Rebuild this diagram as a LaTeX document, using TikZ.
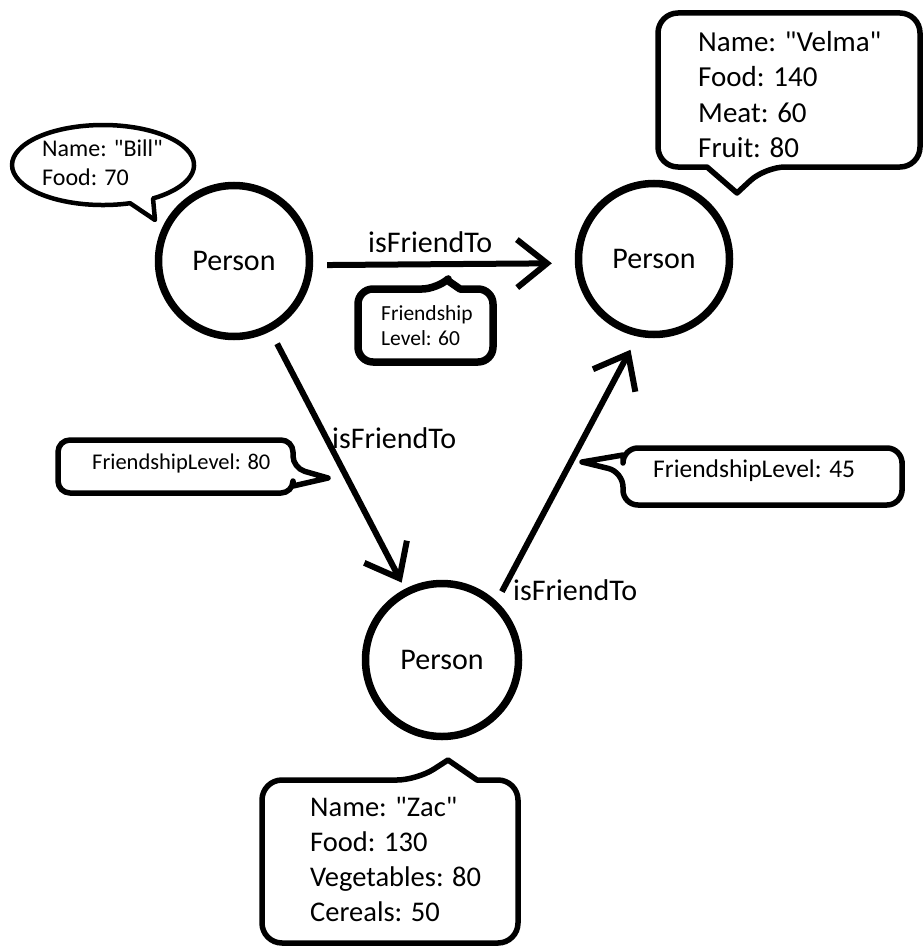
\documentclass[tikz,border=0pt]{standalone}
\usepackage{fontspec}
\setmainfont{Carlito}
\usetikzlibrary{arrows.meta}
\tikzset{
  person/.style={circle, draw, line width=7.5pt, minimum size=151pt, inner sep=0pt,
    font=\fontsize{30}{35}\selectfont},
  conn/.style={line width=6pt, -{Straight Barb[length=30pt,width=48pt]}},
  rel/.style={font=\fontsize{30}{35}\selectfont, inner sep=0pt, anchor=base west},
  callout/.style={draw, line width=5.5pt, fill=white, line join=round},
  ctext/.style={inner sep=0pt, anchor=north west, align=left},
}
\newcommand{\qq}{\textquotedbl}
\begin{document}
\begin{tikzpicture}[x=1pt, y=-1pt]
\useasboundingbox (0,0) rectangle (923,947);

% persons
\node[person] (bill) at (234,261) {Person};
\node[person] (velma) at (654,259) {Person};
\node[person, minimum size=153pt] (zac) at (442,660) {Person};

% connectors
\draw[conn, shorten <=14pt, shorten >=23pt] (bill.-3) -- (velma.183);
\draw[conn, shorten <=14pt, shorten >=7pt] (bill) -- (zac);
\draw[conn, shorten <=11pt, shorten >=15pt] (zac.47) -- (velma.-102);

% relation labels
\node[rel] (r1) at (368,252) {isFriendTo};
\node[rel] (r2) at (332,448) {isFriendTo};
\node[rel] (r3) at (513,600) {isFriendTo};

% Bill callout (ellipse)
\draw[callout, line width=4.5pt] (155,220) -- (130.1,203.2)
  arc[start angle=-72.7, end angle=-416.7, x radius=91pt, y radius=40pt] -- cycle;
\node[ctext, font=\fontsize{24}{29}\selectfont] (billtxt) at (42,140) {Name: \qq Bill\qq\\Food: 70};

% Velma callout
\draw[callout, rounded corners=20pt] (658,90) -- (658,13) -- (920,13) -- (920,167) -- (765,167)
  [sharp corners] -- (737,193) -- (707,167) [rounded corners=20pt] -- (658,167) -- cycle;
\node[ctext, font=\fontsize{29}{35.5}\selectfont] (velmatxt) at (698,31) {Name: \qq Velma\qq\\Food: 140\\Meat: 60\\Fruit: 80};

% Zac callout
\draw[callout, rounded corners=20pt] (262,860) -- (262,780) -- (417,780)
  [sharp corners] -- (448,760) -- (477,780) [rounded corners=20pt] -- (518,780) -- (518,943) -- (262,943) -- cycle;
\node[ctext, font=\fontsize{28.5}{35}\selectfont] (zactxt) at (310,797) {Name: \qq Zac\qq\\Food: 130\\Vegetables: 80\\Cereals: 50};

% Friendship level 60
\draw[callout, line width=7.5pt, rounded corners=15pt] (358,325) -- (358,289) -- (437,289)
  [sharp corners] -- (447,280) -- (460,289) [rounded corners=15pt] -- (493,289) -- (493,362) -- (358,362) -- cycle;
\node[ctext, font=\fontsize{21.5}{25}\selectfont] (fl60) at (381,305) {Friendship\\Level: 60};

% Friendship level 80
\draw[callout, rounded corners=12pt] (58,466) -- (58,440) -- (293,440) -- (293,468)
  [sharp corners] -- (328,478) -- (293,486) [rounded corners=12pt] -- (293,493) -- (58,493) -- cycle;
\node[ctext, font=\fontsize{22.5}{26}\selectfont] (fl80) at (92,454) {FriendshipLevel: 80};

% Friendship level 45
\draw[callout, rounded corners=15pt] (902,476) -- (902,505) -- (623,505) -- (623,472)
  [sharp corners] -- (582,462) -- (623,455) [rounded corners=15pt] -- (623,448) -- (902,448) -- cycle;
\node[ctext, font=\fontsize{25.5}{29}\selectfont] (fl45) at (653,460) {FriendshipLevel: 45};
\end{tikzpicture}
\end{document}
